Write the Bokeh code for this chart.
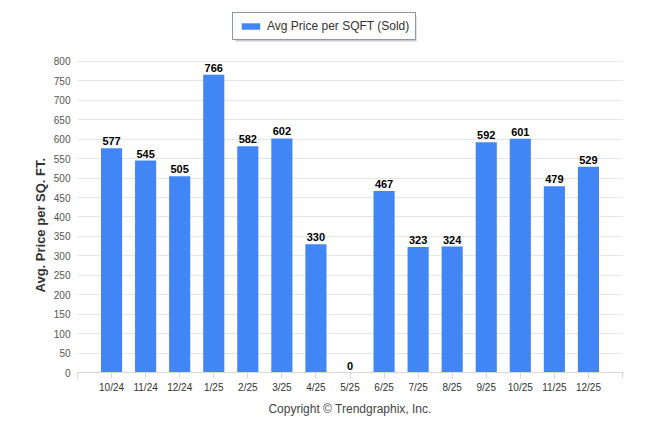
from bokeh.plotting import figure
from bokeh.models import (ColumnDataSource, FixedTicker, Legend, LegendItem, LabelSet, Range1d,
                          Title, BoxAnnotation)
from bokeh.core.properties import value
from bokeh.embed import file_html
from bokeh.resources import INLINE

months = ["10/24", "11/24", "12/24", "1/25", "2/25", "3/25", "4/25", "5/25",
          "6/25", "7/25", "8/25", "9/25", "10/25", "11/25", "12/25"]
avg_price = [577, 545, 505, 766, 582, 602, 330, 0, 467, 323, 324, 592, 601, 479, 529]
y_ticks = list(range(0, 801, 50))

FONT = "Liberation Sans"
BAR = "#4285F4"

n = len(months)
xs = list(range(n))
src = ColumnDataSource(dict(x=xs, top=avg_price, lab=[str(v) for v in avg_price]))

# y range extends above 800 to leave room for the legend inside the frame
p = figure(width=640, height=428, output_backend="svg", toolbar_location=None,
           x_range=Range1d(-1, n), y_range=Range1d(0, 944),
           min_border_left=77, min_border_right=18, min_border_top=5, min_border_bottom=56)
p.outline_line_color = None
p.background_fill_color = "white"

r = p.vbar(x="x", top="top", width=0.62, source=src, fill_color=BAR, line_color=None)

labels = LabelSet(x="x", y="top", text="lab", source=src, text_align="center",
                  text_baseline="bottom", y_offset=3, text_font=value(FONT),
                  text_font_size="11px", text_font_style="bold", text_color="black")
p.add_layout(labels)

# x axis
p.xaxis.ticker = FixedTicker(ticks=list(range(-1, n + 1)), minor_ticks=[])
overrides = {i: m for i, m in zip(xs, months)}
overrides[-1] = ""
overrides[n] = ""
p.xaxis.major_label_overrides = overrides
p.xaxis.major_tick_line_color = "#d8d8d8"
p.xaxis.major_tick_out = 6
p.xaxis.major_tick_in = 0
p.xaxis.minor_tick_line_color = None
p.xaxis.axis_line_color = "#d8d8d8"
p.xaxis.major_label_text_font = FONT
p.xaxis.major_label_text_font_size = "10px"
p.xaxis.major_label_text_color = "#333333"
p.xaxis.major_label_standoff = 3
p.xgrid.grid_line_color = None

# y axis
p.yaxis.ticker = FixedTicker(ticks=y_ticks)
p.yaxis.axis_line_color = None
p.yaxis.major_tick_line_color = None
p.yaxis.major_tick_out = 0
p.yaxis.major_tick_in = 0
p.yaxis.minor_tick_line_color = None
p.yaxis.major_label_text_font = FONT
p.yaxis.major_label_text_font_size = "10px"
p.yaxis.major_label_text_color = "#555555"
p.yaxis.major_label_standoff = 7
p.ygrid.grid_line_color = "#e6e6e6"

ytitle = Title(text="Avg. Price per SQ. FT.", align="left", offset=80,
               text_font=FONT, text_font_size="13px", text_font_style="bold",
               text_color="#333333", standoff=6)
p.add_layout(ytitle, "left")

# soft shadow behind the legend box
shadow = BoxAnnotation(left=235, right=416, top=16, bottom=41,
                       left_units="canvas", right_units="canvas",
                       top_units="canvas", bottom_units="canvas",
                       fill_color="#9a9a9a", fill_alpha=0.55, line_color=None)
p.add_layout(shadow)

legend = Legend(items=[LegendItem(label="Avg Price per SQFT (Sold)", renderers=[r])],
                location=(155, 332), orientation="horizontal",
                label_text_font=FONT, label_text_font_size="12px", label_text_color="#333333",
                border_line_color="#1f2f4f", border_line_width=1,
                background_fill_color="white", background_fill_alpha=1,
                padding=6, margin=0, glyph_width=23, glyph_height=8,
                label_standoff=5, label_height=14, label_width=142)
p.add_layout(legend, "center")

copyright = Title(text="Copyright \u00a9 Trendgraphix, Inc.", align="center",
                  text_font=FONT, text_font_size="12px", text_font_style="normal",
                  text_color="#444444", standoff=9)
p.add_layout(copyright, "below")

open("out.html", "w").write(file_html(p, INLINE))
